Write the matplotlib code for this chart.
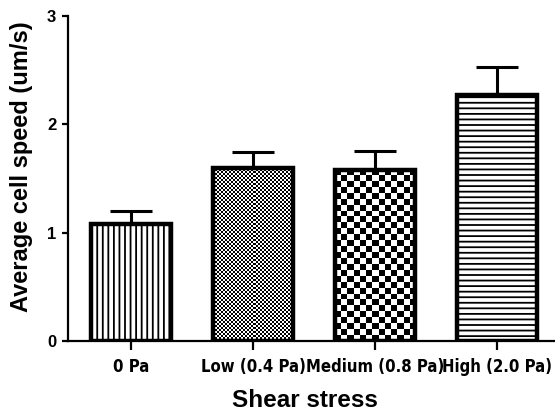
import numpy as np
import matplotlib
matplotlib.use('Agg')
import matplotlib.pyplot as plt

categories = ['0 Pa', 'Low (0.4 Pa)', 'Medium (0.8 Pa)', 'High (2.0 Pa)']
speeds = [1.08, 1.60, 1.58, 2.27]
sem = [0.12, 0.14, 0.17, 0.26]
yticks = [0, 1, 2, 3]

plt.rcParams['font.family'] = ['Liberation Sans', 'DejaVu Sans']
plt.rcParams['hatch.linewidth'] = 1.3

fig = plt.figure(figsize=(5.55, 4.15), dpi=100)
ax = fig.add_axes([68/555, 1 - 341/415, 1 - 68/555, 325/415])

x = np.arange(len(categories))
hatches = ['|||', None, None, '---']
faces = ['white', 'none', 'none', 'white']
bars = ax.bar(x, speeds, width=0.66, color=faces, edgecolor='black',
              linewidth=3.2, zorder=3)
for b, h in zip(bars, hatches):
    if h:
        b.set_hatch(h)

ax.errorbar(x, speeds, yerr=[[0] * len(sem), sem], fmt='none', ecolor='black',
            elinewidth=2.2, capsize=15, capthick=2.2, zorder=2)

ax.set_xlim(-0.516, 3.475)
ax.set_ylim(0, 3)

# checkerboard fills for the two middle bars
fig.canvas.draw()
px_x = ax.transData.transform((1, 0))[0] - ax.transData.transform((0, 0))[0]
px_y = ax.transData.transform((0, 1))[1] - ax.transData.transform((0, 0))[1]
for idx, cell in [(1, 2.0), (2, 6.0)]:
    b = bars[idx]
    x0, w, hgt = b.get_x(), b.get_width(), b.get_height()
    nx = int(round(w * px_x / cell))
    ny = int(round(hgt * px_y / cell))
    board = np.indices((ny, nx)).sum(axis=0) % 2
    im = ax.imshow(board, cmap='gray', extent=(x0, x0 + w, 0, hgt), origin='lower',
                   interpolation='nearest', aspect='auto', zorder=2.5)
    im.set_clip_path(b)
ax.set_xlim(-0.516, 3.475)
ax.set_ylim(0, 3)

for s in ['top', 'right']:
    ax.spines[s].set_visible(False)
for s in ['left', 'bottom']:
    ax.spines[s].set_linewidth(1.6)

ax.set_yticks(yticks)
ax.set_yticklabels([str(t) for t in yticks], fontsize=12, fontweight='bold')
ax.tick_params(axis='y', length=4.5, width=1.6, pad=4)
ax.set_xticks(x)
ax.set_xticklabels(categories, fontsize=12, fontweight='bold',
                   family=['DejaVu Sans'], fontstretch='condensed')
ax.tick_params(axis='x', length=6.5, width=1.6, pad=6)

ax.set_ylabel('Average cell speed (um/s)', fontsize=17, fontweight='bold')
ax.yaxis.set_label_coords(-0.072, 0.535)
ax.set_xlabel('Shear stress', fontsize=17.5, fontweight='bold')
ax.xaxis.set_label_coords(0.486, -0.148)

fig.savefig('out.png', dpi=100)
